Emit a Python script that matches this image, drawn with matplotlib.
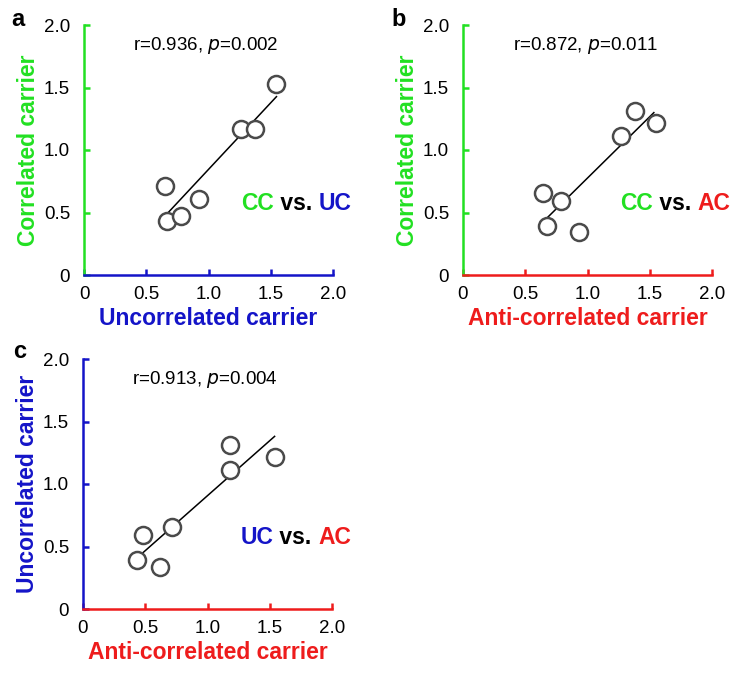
import matplotlib
matplotlib.use("Agg")
import matplotlib.pyplot as plt
import numpy as np

plt.rcParams['font.family'] = ['Liberation Sans', 'DejaVu Sans']

GREEN = '#22e022'
BLUE = '#1414c8'
RED = '#ee1c1c'

# Panel a: UC (x) vs CC (y)
a_x = [0.647, 0.666, 0.776, 0.923, 1.262, 1.374, 1.541]
a_y = [0.715, 0.435, 0.469, 0.605, 1.171, 1.171, 1.528]
a_fit_x = [0.658, 1.546]
a_fit_y = [0.48, 1.427]

# Panel b: AC (x) vs CC (y)
b_x = [0.640, 0.784, 0.675, 0.928, 1.272, 1.381, 1.547]
b_y = [0.659, 0.595, 0.395, 0.341, 1.115, 1.315, 1.213]
b_fit_x = [0.653, 1.533]
b_fit_y = [0.435, 1.299]

# Panel c: AC (x) vs UC (y)
c_x = [0.435, 0.485, 0.616, 0.717, 1.181, 1.181, 1.539]
c_y = [0.395, 0.595, 0.336, 0.653, 1.315, 1.115, 1.216]
c_fit_x = [0.448, 1.539]
c_fit_y = [0.421, 1.381]

ticks = [0, 0.5, 1.0, 1.5, 2.0]
tick_labels = ['0', '0.5', '1.0', '1.5', '2.0']

W, H = 741, 673
fig = plt.figure(figsize=(W / 100, H / 100), dpi=100)


def make_ax(left_px, top_px, w_px=249, h_px=250):
    return fig.add_axes([left_px / W, 1 - (top_px + h_px) / H, w_px / W, h_px / H])


def style(ax, xcol, ycol, xlabel, ylabel):
    ax.set_xlim(0, 2.0)
    ax.set_ylim(0, 2.0)
    ax.set_xticks(ticks)
    ax.set_xticklabels(tick_labels)
    ax.set_yticks(ticks)
    ax.set_yticklabels(tick_labels)
    for s in ['top', 'right']:
        ax.spines[s].set_visible(False)
    ax.spines['left'].set_color(ycol)
    ax.spines['bottom'].set_color(xcol)
    ax.spines['left'].set_linewidth(1.8)
    ax.spines['bottom'].set_linewidth(1.8)
    ax.tick_params(axis='x', direction='in', colors=xcol, labelcolor='black',
                   length=4, width=1.8, labelsize=13.5, pad=8)
    ax.tick_params(axis='y', direction='in', colors=ycol, labelcolor='black',
                   length=4, width=1.8, labelsize=13.5, pad=10)
    ax.set_xlabel(xlabel, color=xcol, fontsize=16.5, fontweight='bold', labelpad=3)
    ax.set_ylabel(ylabel, color=ycol, fontsize=16.5, fontweight='bold', labelpad=3)
    ax.patch.set_visible(False)


def colored_text(ax, x, y, parts):
    t = ax.text(x, y, parts[0][0], color=parts[0][1], fontsize=16.5,
                fontweight='bold', ha='left', va='center', transform=ax.transData)
    prev = t
    for s, c in parts[1:]:
        prev = ax.annotate(s, xy=(1, 0), xycoords=prev, color=c, fontsize=16.5,
                           fontweight='bold', ha='left', va='bottom')


def panel(ax, x, y, fx, fy, stat_r, stat_p, pair):
    ax.plot(fx, fy, color='black', lw=1.1, zorder=2)
    ax.scatter(x, y, s=150, facecolors='white', edgecolors='#4a4a4a',
               linewidths=1.8, zorder=3, clip_on=False)
    ax.text(0.98, 1.84, 'r=' + stat_r + ', $\\it{p}$=' + stat_p, fontsize=13.5,
            ha='center', va='center')
    colored_text(ax, 1.265, 0.57, pair)


ax_a = make_ax(84, 25)
style(ax_a, BLUE, GREEN, 'Uncorrelated carrier', 'Correlated carrier')
panel(ax_a, a_x, a_y, a_fit_x, a_fit_y, '0.936', '0.002',
      [('CC', GREEN), (' vs. ', 'black'), ('UC', BLUE)])

ax_b = make_ax(463, 25)
style(ax_b, RED, GREEN, 'Anti-correlated carrier', 'Correlated carrier')
panel(ax_b, b_x, b_y, b_fit_x, b_fit_y, '0.872', '0.011',
      [('CC', GREEN), (' vs. ', 'black'), ('AC', RED)])

ax_c = make_ax(83, 359)
style(ax_c, RED, BLUE, 'Anti-correlated carrier', 'Uncorrelated carrier')
panel(ax_c, c_x, c_y, c_fit_x, c_fit_y, '0.913', '0.004',
      [('UC', BLUE), (' vs. ', 'black'), ('AC', RED)])

for lbl, px, py in [('a', 11, 8), ('b', 391, 8), ('c', 13, 340)]:
    fig.text(px / W, 1 - py / H, lbl, fontsize=17, fontweight='bold',
             ha='left', va='top')

fig.savefig('out.png', dpi=100)
